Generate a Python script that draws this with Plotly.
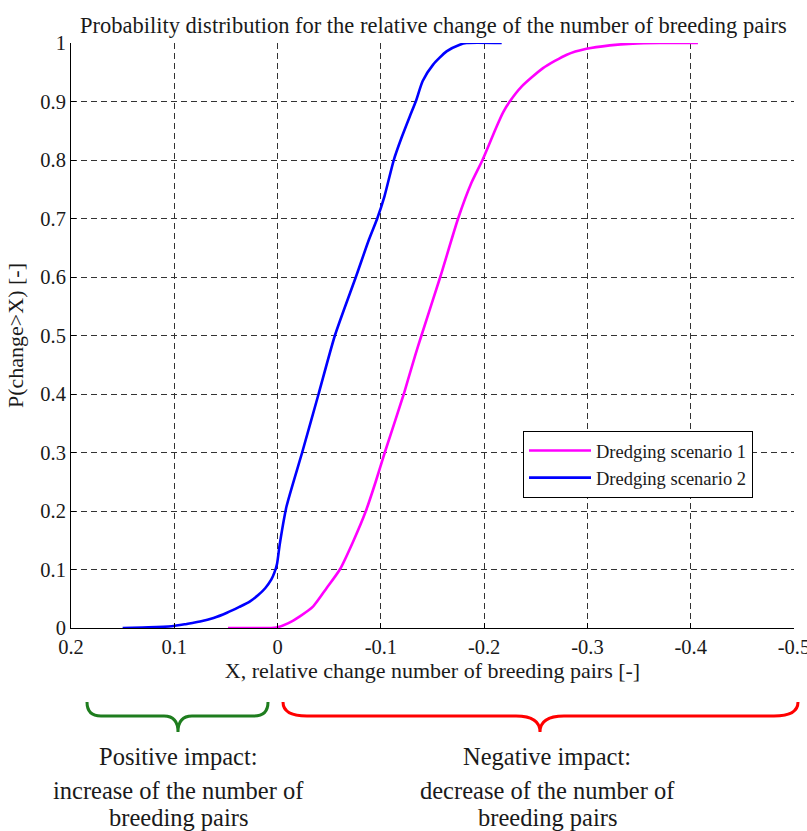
import plotly.graph_objects as go

# Dredging scenario 1 (magenta): X (relative change) and P(change > X)
s1_x = [0.048, 0.02, 0.001, -0.01, -0.0216, -0.0345, -0.0474, -0.0603, -0.0732, -0.0855,
        -0.095, -0.1038, -0.1222, -0.1329, -0.1393, -0.1575, -0.1748, -0.1877,
        -0.1984, -0.212, -0.2185, -0.2248, -0.236, -0.257, -0.280, -0.299, -0.3216, -0.344,
        -0.37, -0.407]
s1_p = [0.0, 0.0, 0.001, 0.008, 0.020, 0.037, 0.068, 0.10, 0.148, 0.20,
        0.25, 0.30, 0.40, 0.464, 0.50, 0.60, 0.70, 0.761,
        0.80, 0.857, 0.882, 0.90, 0.925, 0.957, 0.98, 0.990, 0.996, 0.999,
        1.0, 1.0]

# Dredging scenario 2 (blue)
s2_x = [0.15, 0.125, 0.1026, 0.088, 0.075, 0.062, 0.049, 0.037, 0.027, 0.019,
        0.012, 0.006, 0.003, 0.0005, -0.002, -0.0087, -0.0238, -0.0397, -0.0555, -0.0758,
        -0.0885, -0.0965, -0.1035, -0.1125, -0.120, -0.128, -0.1338, -0.1405, -0.1506,
        -0.1636, -0.1764, -0.183, -0.217]
s2_p = [0.0, 0.001, 0.003, 0.007, 0.011, 0.017, 0.026, 0.036, 0.045, 0.056,
        0.068, 0.083, 0.095, 0.11, 0.142, 0.208, 0.30, 0.40, 0.50, 0.60,
        0.664, 0.70, 0.738, 0.80, 0.838, 0.8745, 0.90, 0.935, 0.963,
        0.9857, 0.997, 1.0, 1.0]

series_names = ["Dredging scenario 1", "Dredging scenario 2"]
series_colors = ["#ff00ff", "#0000ff"]

x_ticks = [0.2, 0.1, 0, -0.1, -0.2, -0.3, -0.4, -0.5]
x_tick_labels = ["0.2", "0.1", "0", "-0.1", "-0.2", "-0.3", "-0.4", "-0.5"]
y_ticks = [0, 0.1, 0.2, 0.3, 0.4, 0.5, 0.6, 0.7, 0.8, 0.9, 1]
y_tick_labels = ["0", "0.1", "0.2", "0.3", "0.4", "0.5", "0.6", "0.7", "0.8", "0.9", "1"]

title_text = "Probability distribution for the relative change of the number of breeding pairs"
x_title = "X, relative change number of breeding pairs [-]"
y_title = "P(change>X) [-]"
pos_lines = ["Positive impact:", "increase of the number of", "breeding pairs"]
neg_lines = ["Negative impact:", "decrease of the number of", "breeding pairs"]

FONT = "Liberation Serif"
TXT = "#1a1a1a"
W, H = 807, 831
L, R, T, B = 71, 13, 43, 203
PW, PH = W - L - R, H - T - B


def px(x):
    return (x - L) / PW


def py(y):
    return (H - B - y) / PH


fig = go.Figure()
for xs, ps, name, col in [(s1_x, s1_p, series_names[0], series_colors[0]),
                          (s2_x, s2_p, series_names[1], series_colors[1])]:
    fig.add_trace(go.Scatter(x=xs, y=ps, mode="lines", name=name,
                             line=dict(color=col, width=2.6, shape="spline", smoothing=0.6)))

grid = dict(showgrid=True, gridcolor="#333333", gridwidth=1, griddash="6px,4px")
fig.update_xaxes(range=[0.2, -0.5], tickvals=x_ticks, ticktext=x_tick_labels,
                 showline=True, linecolor="black", linewidth=1, ticks="inside",
                 ticklen=5, tickcolor="black", zeroline=False,
                 ticklabeloverflow="allow", automargin=False,
                 title=dict(text=x_title, standoff=4, font=dict(size=22, color=TXT)),
                 tickfont=dict(size=20.5, color=TXT), **grid)
fig.update_yaxes(range=[0, 1], tickvals=y_ticks, ticktext=y_tick_labels,
                 showline=True, linecolor="black", linewidth=1, ticks="inside",
                 ticklen=5, tickcolor="black", zeroline=False, automargin=False,
                 title=dict(text=y_title, standoff=10, font=dict(size=22, color=TXT)),
                 tickfont=dict(size=20.5, color=TXT), **grid)


def brace(x0, x1, xm, ytop, ymid, ytip, r, color):
    pts = [
        f"M {px(x0)},{py(ytop)}",
        f"Q {px(x0)},{py(ymid)} {px(x0 + r)},{py(ymid)}",
        f"L {px(xm - r)},{py(ymid)}",
        f"Q {px(xm)},{py(ymid)} {px(xm)},{py(ytip)}",
        f"Q {px(xm)},{py(ymid)} {px(xm + r)},{py(ymid)}",
        f"L {px(x1 - r)},{py(ymid)}",
        f"Q {px(x1)},{py(ymid)} {px(x1)},{py(ytop)}",
    ]
    fig.add_shape(type="path", path=" ".join(pts), xref="paper", yref="paper",
                  line=dict(color=color, width=3))


brace(87, 268, 178, 702, 716, 732, 14, "#1e7d1e")
brace(283, 798, 540, 702, 716, 732, 24, "#ff0000")

ann = [dict(text=title_text, x=px(433), y=py(25), size=22.5)]
for t, yy in zip(pos_lines, [756, 790, 817]):
    ann.append(dict(text=t, x=px(178), y=py(yy), size=24.5))
for t, yy in zip(neg_lines, [756, 790, 817]):
    ann.append(dict(text=t, x=px(547), y=py(yy), size=24.5))
for a in ann:
    fig.add_annotation(text=a["text"], x=a["x"], y=a["y"], xref="paper", yref="paper",
                       showarrow=False, xanchor="center", yanchor="middle",
                       font=dict(family=FONT, size=a["size"], color=TXT))

fig.update_layout(
    width=W, height=H,
    margin=dict(l=L, r=R, t=T, b=B, autoexpand=False),
    paper_bgcolor="white", plot_bgcolor="white",
    font=dict(family=FONT, size=21, color=TXT),
    showlegend=True,
    legend=dict(x=px(523), y=py(431), xanchor="left", yanchor="top",
                bgcolor="white", bordercolor="black", borderwidth=1,
                font=dict(family=FONT, size=18.5, color=TXT),
                itemwidth=62, tracegroupgap=0),
)

fig.write_html("out.html", config={"displayModeBar": False})

# remove the default page margin so the figure fills the window exactly
with open("out.html", encoding="utf-8") as f:
    html = f.read()
html = html.replace("<head>", "<head><style>html,body{margin:0;padding:0;}</style>", 1)
with open("out.html", "w", encoding="utf-8") as f:
    f.write(html)
